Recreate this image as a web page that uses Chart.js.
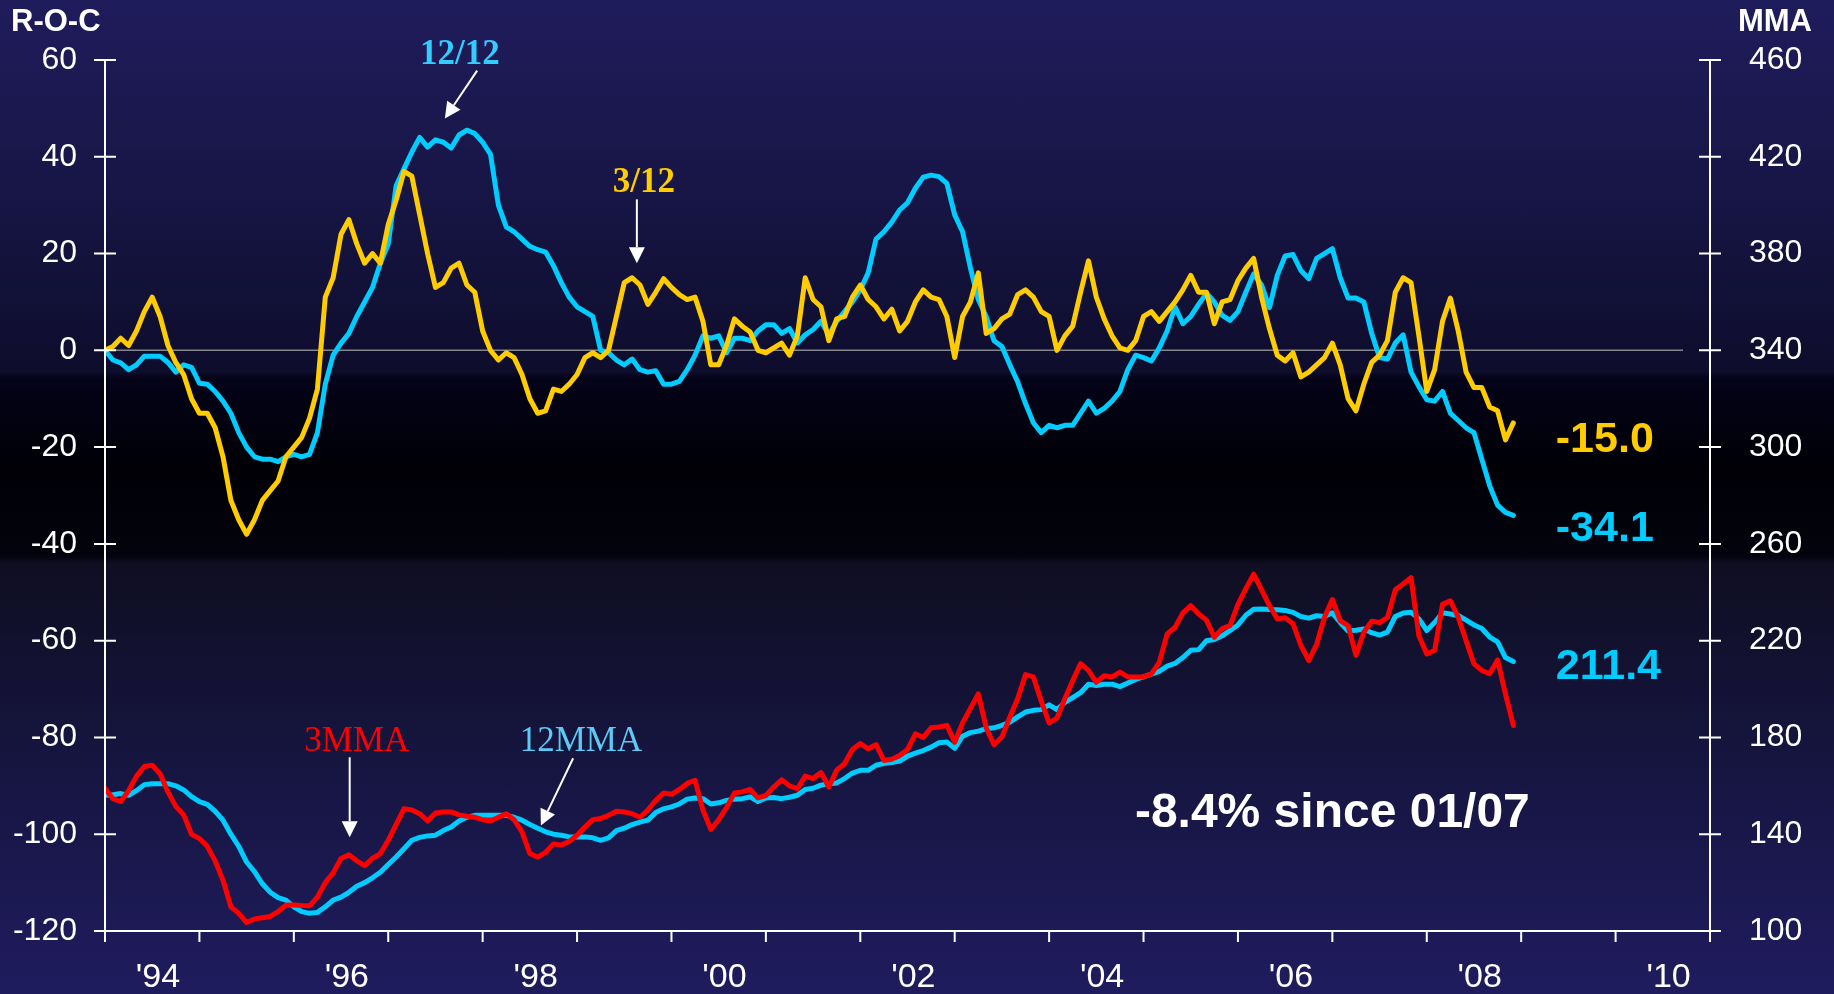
<!DOCTYPE html>
<html>
<head>
<meta charset="utf-8">
<script src="https://cdn.jsdelivr.net/npm/chart.js@4.4.1/dist/chart.umd.min.js"></script>
<style>
  html, body { margin: 0; padding: 0; }
  body {
    width: 1834px; height: 994px; overflow: hidden;
    background: linear-gradient(to bottom,
      #1f1c5c 0px, #181647 180px, #0e0d2c 372px,
      #040318 378px, #000006 470px, #03030e 556px,
      #0f0e22 564px, #161540 760px, #1f1c5e 994px);
  }
  #chart { display: block; }
</style>
</head>
<body>
<canvas id="chart" width="1834" height="994"></canvas>
<script>
// monthly, Jan 1994 .. Dec 2008
// 3/12 rate of change (left axis)
const roc3 = [
  0, 0.8, 2.5, 1.0, 4, 8, 11, 7, 1, -2.5, -5, -10,
  -13, -13, -16, -22, -31, -35, -38, -35, -31, -29, -27, -22,
  -20, -18, -14, -8, 11, 15, 24, 27, 22, 18, 20, 18,
  26, 31, 37, 36, 28, 20, 13, 14, 17, 18, 13.5, 12,
  4, 0, -2, -0.5, -1.5, -5, -10, -13, -12.5, -8, -8.5, -7,
  -5, -1.5, -0.5, -1.5, 0, 7, 14, 15, 13.5, 9.5, 12, 14.8,
  13, 11.5, 10.5, 11, 6, -3, -3, 1, 6.5, 5, 3.8, 0,
  -0.5, 0.5, 1.5, -1, 3, 15, 10.5, 9, 2, 6.5, 7, 11,
  13.5, 10.5, 9, 6.5, 8.5, 4, 6, 10, 12.5, 11, 10.5, 7,
  -1.5, 7, 10, 16, 3.5, 4.5, 6.5, 7.5, 11.5, 12.5, 11, 8,
  7, 0, 3, 5, 12, 18.5, 11, 6.5, 3, 0.5, 0, 2,
  7, 8, 6, 8, 10, 12.5, 15.5, 12, 12, 5.5, 10, 10.5,
  14.4, 17, 19, 11, 4.5, -1, -2.2, -0.5, -5.5, -4.5, -3, -1.5,
  1.5, -3, -10, -12.5, -7, -2.5, -1, 2, 12, 15, 14, 3,
  -8.5, -4, 6, 10.8, 4, -4.5, -7.7, -7.7, -11.7, -12.5, -18.5, -15
];
// 12/12 rate of change (left axis)
const roc12 = [
  0, -2, -2.6, -4, -3, -1.2, -1.2, -1.2, -2.5, -4.5, -3, -3.5,
  -6.8, -7, -8.5, -10.5, -13, -17, -20, -22, -22.5, -22.5, -23, -22,
  -21.5, -22, -21.5, -17, -7, -1, 1.5, 3.5, 7, 10, 13, 18,
  22, 34, 37.5, 41, 44, 42, 43.5, 43, 41.8, 44.5, 45.5, 44.8,
  43, 40.5, 30, 25.5, 24.5, 23, 21.5, 20.8, 20.3, 17.5, 14, 11,
  9, 8, 7, 0, -0.5, -2, -3, -1.8, -4, -4.5, -4.2, -7,
  -7, -6.4, -4, -1, 3, 2.5, 3, -0.5, 2.5, 2.5, 2, 4,
  5.3, 5.3, 3.5, 4.5, 1.5, 3.2, 4.3, 6, 3.2, 6, 8, 10,
  12.5, 16, 23, 24.5, 26.5, 29, 30.5, 33.5, 35.8, 36.2, 35.9, 34.5,
  28, 24.5, 17, 10.5, 7, 2, 0.8, -3, -6.5, -11, -15, -17,
  -15.5, -16, -15.5, -15.5, -13, -10.5, -13, -12, -10.5, -8.5, -4, -1,
  -1.5, -2.2, 0.5, 4, 9, 5.5, 7, 9.5, 11.8, 10, 7.2, 6.2,
  8, 12, 15.8, 13.5, 8.8, 15.5, 19.5, 19.8, 16.5, 14.8, 19, 20,
  21, 15, 10.8, 10.8, 10, 3.5, -1.5, -1.8, 1.5, 3.2, -4.5, -7.5,
  -10.2, -10.5, -8.5, -13, -14.5, -16, -17, -22.5, -28, -32, -33.5, -34.1
];
// 3-month moving average (right axis)
const mma3 = [
  159, 154.7, 153.5, 158, 164, 168, 168.5, 165, 157.5, 151.5, 148, 140,
  138.2, 135, 129, 121, 110, 107.3, 103.5, 105, 105.5, 106, 108, 110.7,
  110.7, 110.5, 110.4, 114, 120, 124, 130, 131.5, 129, 127, 130, 132,
  137.5, 144, 150.5, 150, 148.5, 145.5, 148.8, 149.2, 149.2, 148, 147.4, 147,
  146, 145.5, 147, 148.5, 146, 141, 132, 130.5, 132.5, 136, 135.5, 137,
  139.6, 143, 146, 146.5, 147.8, 149.5, 149.2, 148.5, 147, 150, 154, 157,
  156.5, 158.5, 161, 162.3, 150, 142, 146, 151, 157, 157.5, 158.5, 155,
  156, 159.5, 162.5, 160, 158.8, 164, 163, 165.5, 159.5, 166.5, 169.2, 175,
  177.5, 175.3, 177, 170.5, 171, 172.5, 175, 181.5, 180, 184, 184.3, 185,
  178, 186, 192, 198, 184, 177, 180.2, 188.4, 196, 206, 205, 195,
  186, 188, 196, 203.5, 210.5, 207.7, 202.8, 205.5, 205, 207, 205, 205,
  205, 206.3, 211, 222.8, 225.5, 231.5, 234.5, 231, 228.5, 221.4, 225, 226.2,
  235, 241.5, 247.5, 241, 234.5, 229, 229.5, 227, 218, 211.8, 218.5, 229.7,
  237, 228.3, 226.2, 214, 223.5, 228, 227.5, 229.5, 241, 243.4, 246, 222,
  214.5, 216, 235, 236.5, 229.7, 220, 210.4, 207.7, 206.3, 212, 198, 185
];
// 12-month moving average (right axis)
const mma12 = [
  156.1, 156.3, 156.8, 156.1, 158, 160.5, 160.9, 160.9, 160.9, 160, 158.3, 155.5,
  153.5, 152.3, 149.5, 145.8, 140, 135, 128.5, 124.5, 119.5, 116, 113.8, 112.8,
  110, 108, 107.3, 107.7, 110, 112.8, 114, 116, 118.5, 120, 122, 124.3,
  127.5, 130.6, 134, 137.5, 138.7, 139.3, 139.6, 141.5, 143, 145.5, 147, 147.8,
  147.8, 147.8, 147.8, 147.8, 147, 145.8, 144, 142.5, 141, 140, 139.6, 138.9,
  138.9, 138.9, 138.5, 137.5, 138.5, 141.5, 142.5, 144, 145, 145.8, 149, 150.5,
  151.3, 152.5, 154.5, 155, 154.7, 152.5, 153, 154, 154.5, 154.7, 155.4, 153.5,
  155, 155.2, 154.7, 155.3, 156.1, 158.5, 159, 160.3, 160.9, 161.2, 163, 165.3,
  166.4, 166.4, 168.5, 169.3, 169.6, 170.2, 172.3, 173.5, 174.6, 176, 177.8, 178.1,
  175.5, 180.5, 182, 182.6, 183.6, 184, 185, 186.3, 188.5, 190.5, 191.2, 191.5,
  193.5, 191.5, 194.5, 196.5, 198.5, 202, 201.5, 202, 202, 201, 202.5, 204,
  205, 206.2, 207.3, 209.5, 210.6, 213, 216, 216.3, 220, 220.5, 222, 224.2,
  226.5, 230.5, 233, 233.1, 232.9, 232.8, 232.5, 231.7, 230, 229.3, 230.3, 230,
  231.5, 227.5, 224, 224.3, 224.8, 223.3, 222.3, 223.5, 230, 231.4, 231.7, 229,
  224.2, 227.5, 231.5, 231, 230.4, 228.5, 226.5, 225, 221.5, 219.5, 213, 211.4
];

const pts = arr => arr.map((v, i) => ({ x: i, y: v }));

// text notes and arrows, in (month, left-axis value) units
const notes = [
  { text: '12/12', m: 45.1, v: 61.0, color: '#33ccff', font: 'bold 35px "Liberation Serif"' },
  { text: '3/12', m: 68.5, v: 34.5, color: '#ffcc00', font: 'bold 35px "Liberation Serif"' },
  { text: '3MMA', m: 32.0, v: -81.0, color: '#ff0000', font: '35px "Liberation Serif"' },
  { text: '12MMA', m: 60.5, v: -81.0, color: '#5ccaf5', font: '35px "Liberation Serif"' }
];
const arrows = [
  [47.3, 57.8, 43.2, 47.9],
  [67.6, 31.2, 67.6, 18.0],
  [31.1, -84.1, 31.1, -100.6],
  [59.5, -84.3, 55.4, -98.2]
];
const endLabels = [
  { text: '-15.0', m: 184.4, v: -18.6, color: '#ffcc00' },
  { text: '-34.1', m: 184.4, v: -37.0, color: '#00ccff' },
  { text: '211.4', m: 184.4, v: -65.4, color: '#00ccff' }
];

function drawArrow(ctx, x1, y1, x2, y2) {
  const a = Math.atan2(y2 - y1, x2 - x1);
  const hl = 16, hw = 8;
  const bx = x2 - hl * Math.cos(a), by = y2 - hl * Math.sin(a);
  ctx.beginPath();
  ctx.moveTo(x1, y1);
  ctx.lineTo(bx, by);
  ctx.stroke();
  ctx.beginPath();
  ctx.moveTo(x2, y2);
  ctx.lineTo(bx + hw * Math.sin(a), by - hw * Math.cos(a));
  ctx.lineTo(bx - hw * Math.sin(a), by + hw * Math.cos(a));
  ctx.closePath();
  ctx.fill();
}

const frame = {
  id: 'frame',
  beforeDatasetsDraw(chart) {
    const { ctx, chartArea: a, scales } = chart;
    const y0 = scales.y.getPixelForValue(0);
    ctx.save();
    ctx.strokeStyle = '#85858f';
    ctx.lineWidth = 1.5;
    ctx.beginPath();
    ctx.moveTo(a.left, y0);
    ctx.lineTo(a.right - 27, y0);
    ctx.stroke();
    ctx.restore();
  },
  afterDatasetsDraw(chart) {
    const { ctx, chartArea: a, scales: { x, y, y1 } } = chart;
    ctx.save();
    ctx.strokeStyle = '#ffffff';
    ctx.lineWidth = 2;
    ctx.beginPath();
    ctx.moveTo(a.left, a.top); ctx.lineTo(a.left, a.bottom);
    ctx.lineTo(a.right, a.bottom);
    ctx.moveTo(a.right, a.top); ctx.lineTo(a.right, a.bottom);
    y.ticks.forEach(t => {
      const p = y.getPixelForValue(t.value);
      ctx.moveTo(a.left - 11, p); ctx.lineTo(a.left + 11, p);
    });
    y1.ticks.forEach(t => {
      const p = y1.getPixelForValue(t.value);
      ctx.moveTo(a.right - 11, p); ctx.lineTo(a.right + 11, p);
    });
    x.ticks.forEach(t => {
      const p = x.getPixelForValue(t.value);
      ctx.moveTo(p, a.bottom); ctx.lineTo(p, a.bottom + 11);
    });
    ctx.stroke();

    // annotations
    ctx.textAlign = 'center';
    ctx.textBaseline = 'middle';
    notes.forEach(n => {
      ctx.font = n.font;
      ctx.fillStyle = n.color;
      ctx.fillText(n.text, x.getPixelForValue(n.m), y.getPixelForValue(n.v));
    });
    ctx.fillStyle = '#ffffff';
    ctx.lineWidth = 2;
    arrows.forEach(r => drawArrow(ctx,
      x.getPixelForValue(r[0]), y.getPixelForValue(r[1]),
      x.getPixelForValue(r[2]), y.getPixelForValue(r[3])));

    ctx.textAlign = 'left';
    ctx.font = 'bold 43px "Liberation Sans"';
    endLabels.forEach(l => {
      ctx.fillStyle = l.color;
      ctx.fillText(l.text, x.getPixelForValue(l.m), y.getPixelForValue(l.v));
    });
    ctx.fillStyle = '#ffffff';
    ctx.font = 'bold 48px "Liberation Sans"';
    ctx.textAlign = 'center';
    ctx.fillText('-8.4% since 01/07', x.getPixelForValue(156.0), y.getPixelForValue(-95.7));

    // axis titles
    ctx.font = 'bold 31px "Liberation Sans"';
    ctx.textAlign = 'left';
    ctx.fillText('R-O-C', 11, 22);
    ctx.textAlign = 'right';
    ctx.fillText('MMA', 1812, 22);
    ctx.restore();
  }
};

const tickFont = { family: '"Liberation Sans", Arial, sans-serif', size: 32 };

new Chart(document.getElementById('chart'), {
  type: 'line',
  data: {
    datasets: [
      { data: pts(mma3), yAxisID: 'y1', borderColor: '#ff0000' },
      { data: pts(mma12), yAxisID: 'y1', borderColor: '#00ccff' },
      { data: pts(roc3), yAxisID: 'y', borderColor: '#ffcc00' },
      { data: pts(roc12), yAxisID: 'y', borderColor: '#00ccff' }
    ]
  },
  options: {
    responsive: false,
    animation: false,
    parsing: false,
    layout: { padding: { top: 60, left: 0, right: 0, bottom: 0 } },
    elements: {
      point: { radius: 0 },
      line: { borderWidth: 5, tension: 0, borderJoinStyle: 'round', borderCapStyle: 'round' }
    },
    plugins: { legend: { display: false }, tooltip: { enabled: false } },
    scales: {
      x: {
        type: 'linear', min: 0, max: 204,
        grid: { display: false }, border: { display: false },
        afterFit: s => { s.height = 63; },
        ticks: {
          stepSize: 12, autoSkip: false, maxRotation: 0, color: '#ffffff',
          font: { family: tickFont.family, size: 34 }, padding: 18, labelOffset: 53,
          callback: v => {
            const yr = 1994 + v / 12;
            return (yr % 2 === 0 && yr < 2011) ? "'" + String(yr).slice(2) : '';
          }
        }
      },
      y: {
        position: 'left', min: -120, max: 60,
        grid: { display: false }, border: { display: false },
        afterFit: s => { s.width = 105; },
        ticks: { stepSize: 20, color: '#ffffff', font: tickFont, padding: 20 }
      },
      y1: {
        position: 'right', min: 100, max: 460,
        grid: { display: false }, border: { display: false },
        afterFit: s => { s.width = 124; },
        ticks: { stepSize: 40, color: '#ffffff', font: tickFont, padding: 31 }
      }
    }
  },
  plugins: [frame]
});
</script>
</body>
</html>
